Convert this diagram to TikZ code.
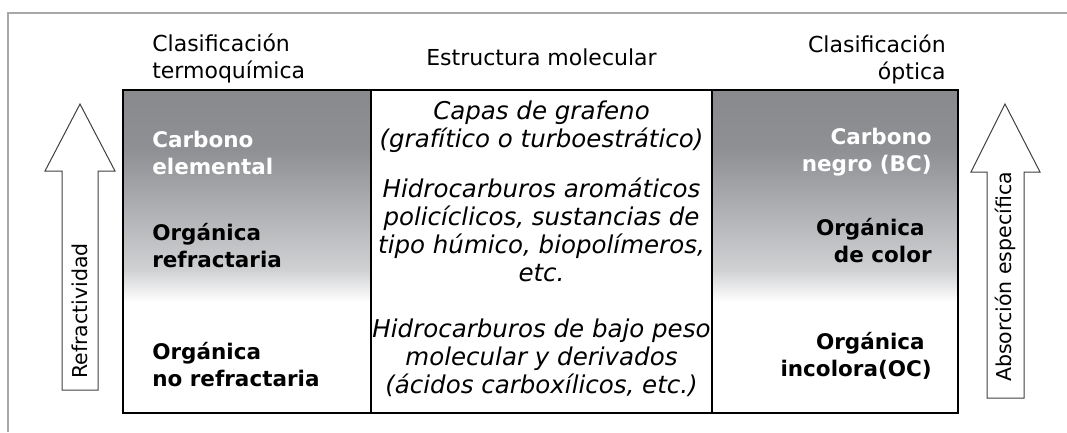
\documentclass[tikz,border=0pt]{standalone}
\usepackage{fontspec}
\setmainfont{DejaVu Sans}
\usepackage{tkz-euclide}
\usetikzlibrary{arrows}
\definecolor{colgray}{HTML}{888A8E}
\definecolor{colmid}{HTML}{8F9094}
\definecolor{colpale}{HTML}{D0D1D3}
\definecolor{framegray}{HTML}{A8A8A8}
\tikzset{
headtxt/.style={font=\fontsize{22}{27}\selectfont,inner sep=0pt},
classtxt/.style={font=\fontsize{21.5}{27}\selectfont\bfseries,inner sep=0pt},
structtxt/.style={font=\fontsize{24.5}{28}\selectfont\itshape,align=center,inner sep=0pt},
axistxt/.style={font=\fontsize{20.5}{24}\selectfont,rotate=90,inner sep=0pt},
fatarrow/.style={draw=black!75,fill=white,line width=1pt}}

\begin{document}
\begin{tikzpicture}[x=1pt,y=-1pt,semithick]
\useasboundingbox (0,0) rectangle (1067,432);
\tkzDefPoints{123/90/A,371/90/B,712/90/C,958/90/D,123/413/E,371/413/F,712/413/G,958/413/H}
\tkzDefPoints{62/390/L1,62/171/L2,45/171/L3,80/104/L4,115/171/L5,98/171/L6,98/390/L7}
\tkzDefPoints{987/398/R1,987/172/R2,971/172/R3,1005/104/R4,1040/172/R5,1024/172/R6,1024/398/R7}
% marco
\draw[framegray,line width=1.5pt](8,432)--(8,13)--(1067,13);
% degradado
\foreach \xa/\xb in {123/371,712/958}{
\shade[top color=colgray,bottom color=colmid](\xa,90) rectangle (\xb,151);
\shade[top color=colmid,bottom color=colpale](\xa,150) rectangle (\xb,271);
\shade[top color=colpale,bottom color=white](\xa,270) rectangle (\xb,302);}
\draw[line width=1.2pt](A)--(D)--(H)--(E)--cycle(B)--(F)(C)--(G);
% flechas
\draw[fatarrow](L1)--(L2)--(L3)--(L4)--(L5)--(L6)--(L7)--cycle;
\draw[fatarrow](R1)--(R2)--(R3)--(R4)--(R5)--(R6)--(R7)--cycle;
\node[axistxt](refr) at (80,311){Refractividad};
\node[axistxt](absor) at (1005,277){Absorción específica};
% cabeceras
\node[headtxt,anchor=west,align=left](termo) at (152,58.5){Clasificación\\termoquímica};
\node[headtxt](estr) at (541.5,57){Estructura molecular};
\node[headtxt,anchor=east,align=right](optica) at (946,59.5){Clasificación\\óptica};
% columna izquierda
\node[classtxt,text=white,anchor=west,align=left](elem) at (152,153){Carbono\\elemental};
\node[classtxt,anchor=west,align=left](refra) at (152,246){Orgánica\\refractaria};
\node[classtxt,anchor=west,align=left](norefra) at (152,365){Orgánica\\no refractaria};
% columna central
\node[structtxt](grafeno) at (541.5,127){Capas de grafeno\\(grafítico o turboestrático)};
\node[structtxt](aromat) at (541.5,230){Hidrocarburos aromáticos\\policíclicos, sustancias de\\tipo húmico, biopolímeros,\\etc.};
\node[structtxt](bajopeso) at (541.5,358){Hidrocarburos de bajo peso\\molecular y derivados\\(ácidos carboxílicos, etc.)};
% columna derecha
\node[classtxt,text=white,anchor=east,align=right](bc) at (932,152){Carbono\\negro (BC)};
\node[classtxt,anchor=east,align=right](color) at (932,241){Orgánica\hspace*{7pt}\\de color};
\node[classtxt,anchor=east,align=right](oc) at (932,356){Orgánica\hspace*{7pt}\\incolora(OC)};
\end{tikzpicture}
\end{document}
